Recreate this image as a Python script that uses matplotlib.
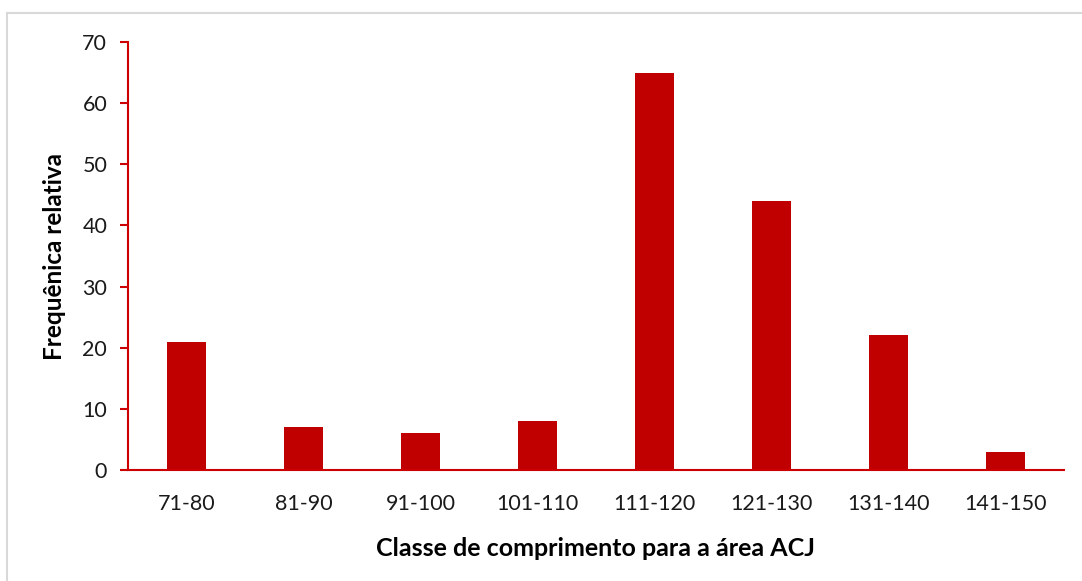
import matplotlib
matplotlib.use("Agg")
import matplotlib.pyplot as plt
from matplotlib.lines import Line2D

categories = ["71-80", "81-90", "91-100", "101-110", "111-120", "121-130", "131-140", "141-150"]
values = [21, 7, 6, 8, 65, 44, 22, 3]
y_ticks = [0, 10, 20, 30, 40, 50, 60, 70]

bar_color = "#C00000"
axis_color = "#CC0000"

plt.rcParams["font.family"] = ["Lato", "DejaVu Sans"]

fig = plt.figure(figsize=(10.82, 5.81), dpi=100)
ax = fig.add_axes([128 / 1082, 1 - 470 / 581, 936 / 1082, 428 / 581])

x = list(range(len(categories)))
ax.bar(x, values, width=0.33, color=bar_color, zorder=2)

ax.set_xlim(-0.5, len(categories) - 0.5)
ax.set_ylim(0, 70)
ax.set_xticks(x)
ax.set_xticklabels(categories)
ax.set_yticks(y_ticks)

for side in ("top", "right"):
    ax.spines[side].set_visible(False)
for side in ("left", "bottom"):
    ax.spines[side].set_color(axis_color)
    ax.spines[side].set_linewidth(1.5)

ax.tick_params(axis="x", length=0, pad=17, labelsize=15.5, labelcolor="#1a1a1a")
ax.tick_params(axis="y", length=6, width=1.5, color=axis_color, pad=9,
               labelsize=15.5, labelcolor="#1a1a1a")

ax.set_xlabel("Classe de comprimento para a área ACJ", fontsize=18,
              fontweight="bold", labelpad=17)
ax.set_ylabel("Frequênica relativa", fontsize=17.5, fontweight="bold", labelpad=12)

# light grey frame around the chart area
frame_color = "#D9D9D9"
fig.add_artist(Line2D([7 / 1082, 7 / 1082], [0, 1 - 13 / 581],
                      transform=fig.transFigure, color=frame_color, lw=1.5))
fig.add_artist(Line2D([7 / 1082, 1], [1 - 13 / 581, 1 - 13 / 581],
                      transform=fig.transFigure, color=frame_color, lw=1.5))

fig.savefig("out.png", dpi=100)
